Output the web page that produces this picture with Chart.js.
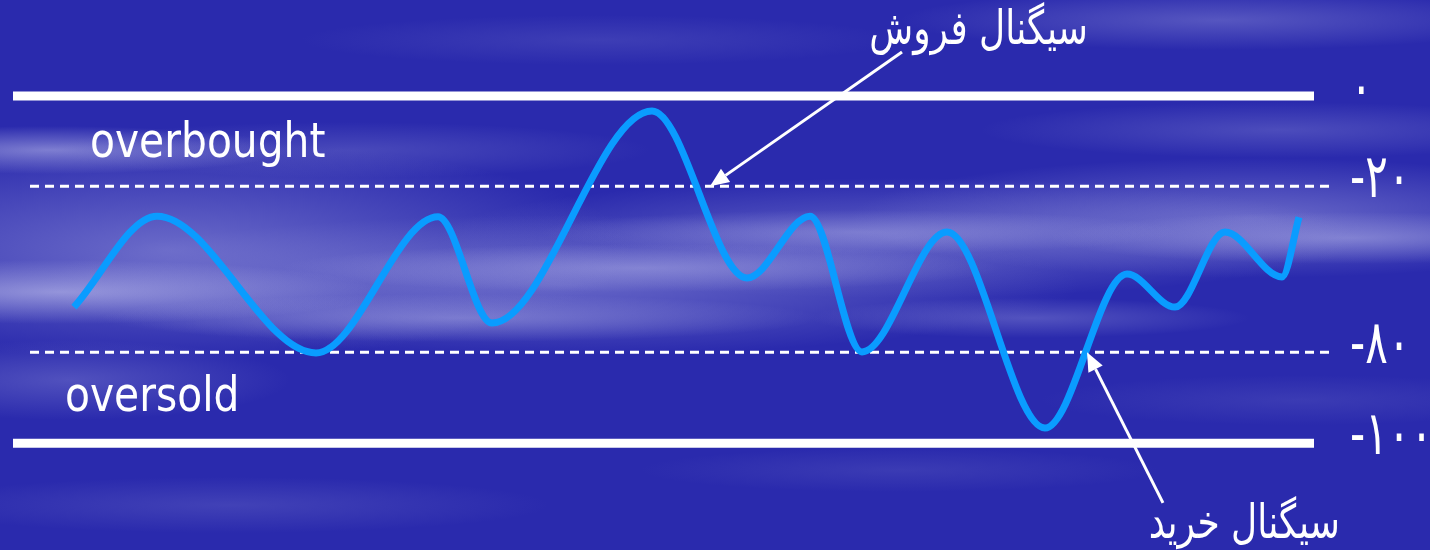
<!DOCTYPE html>
<html>
<head>
<meta charset="utf-8">
<script src="https://cdn.jsdelivr.net/npm/chart.js@4.4.1/dist/chart.umd.min.js"></script>
<style>
  html, body { margin: 0; padding: 0; }
  body {
    width: 1430px; height: 550px; overflow: hidden;
    background-color: #2a2aad;
    background-image:
      radial-gradient(ellipse 320px 32px at 60px 292px, rgba(195,195,238,0.6), rgba(195,195,238,0) 100%),
      radial-gradient(ellipse 240px 24px at 50px 150px, rgba(180,180,232,0.6), rgba(180,180,232,0) 100%),
      radial-gradient(ellipse 360px 24px at 460px 318px, rgba(180,180,232,0.45), rgba(180,180,232,0) 100%),
      radial-gradient(ellipse 360px 24px at 640px 268px, rgba(180,180,232,0.45), rgba(180,180,232,0) 100%),
      radial-gradient(ellipse 320px 22px at 860px 232px, rgba(175,175,230,0.4), rgba(175,175,230,0) 100%),
      radial-gradient(ellipse 300px 26px at 1350px 238px, rgba(180,180,232,0.5), rgba(180,180,232,0) 100%),
      radial-gradient(ellipse 220px 20px at 1030px 318px, rgba(160,160,225,0.35), rgba(160,160,225,0) 100%),
      radial-gradient(ellipse 460px 110px at 170px 250px, rgba(150,150,220,0.6), rgba(150,150,220,0) 100%),
      radial-gradient(ellipse 520px 70px at 560px 285px, rgba(150,150,220,0.55), rgba(150,150,220,0) 100%),
      radial-gradient(ellipse 460px 60px at 900px 238px, rgba(150,150,220,0.5), rgba(150,150,220,0) 100%),
      radial-gradient(ellipse 400px 60px at 1250px 218px, rgba(155,155,222,0.55), rgba(155,155,222,0) 100%),
      radial-gradient(ellipse 320px 30px at 1220px 20px, rgba(140,140,215,0.45), rgba(140,140,215,0) 100%),
      radial-gradient(ellipse 300px 28px at 1280px 130px, rgba(140,140,215,0.35), rgba(140,140,215,0) 100%),
      radial-gradient(ellipse 300px 25px at 600px 40px, rgba(120,120,205,0.25), rgba(120,120,205,0) 100%),
      radial-gradient(ellipse 300px 28px at 350px 150px, rgba(130,130,210,0.35), rgba(130,130,210,0) 100%),
      radial-gradient(ellipse 220px 40px at 70px 380px, rgba(140,140,215,0.4), rgba(140,140,215,0) 100%),
      radial-gradient(ellipse 320px 28px at 230px 505px, rgba(120,120,205,0.3), rgba(120,120,205,0) 100%),
      radial-gradient(ellipse 260px 22px at 900px 470px, rgba(110,110,200,0.25), rgba(110,110,200,0) 100%),
      radial-gradient(ellipse 260px 25px at 1300px 400px, rgba(110,110,200,0.25), rgba(110,110,200,0) 100%);
  }
  #wrap { position: absolute; left: 0; top: 0; width: 1430px; height: 550px; }
</style>
</head>
<body>
<div id="wrap"><canvas id="c" width="1430" height="550"></canvas></div>
<script>
// ---- data (time units along x, oscillator value along y) ----
const curveX = [7.4, 15.7, 31.6, 43.8, 49.2, 65.2, 74.7, 81.0, 86.2, 94.7, 104.5, 112.7, 117.5, 122.5, 128.2, 129.9];
const curveY = [-60.8, -34.6, -74.0, -34.8, -65.4, -4.3, -52.4, -34.6, -73.7, -39.2, -95.6, -51.3, -60.8, -39.2, -52.1, -34.9];

// horizontal reference levels as drawn in the picture
const boundLevels = [0, -100];          // solid bounds
const bandLevels = [-26, -73.8];        // dashed overbought / oversold lines
const boundRange = [1.3, 131.4];        // x extent of solid lines
const bandRange = [3.0, 133.0];         // x extent of dashed lines

// right-side tick labels
const tickValues = [0, -26, -73.8, -100];
const tickLabels = ['۰', '-۲۰', '-۸۰', '-۱۰۰'];

// annotations
const zoneLabels = ['overbought', 'oversold'];
const zoneX = [9.0, 6.5];
const zoneY = [-17.6, -90.7];

const signalLabels = ['سیگنال فروش', 'سیگنال خرید'];
const signalTextX = [108.8, 134.0];      // right edge of text
const signalTextY = [15.0, -127.3];      // baseline
const arrowFrom = [[90.2, 12.7], [116.3, -117.2]];
const arrowTo = [[71.0, -26.0], [108.7, -73.8]];

const yMax = 27.65, yMin = -130.76;

function hline(level, range) {
  return [{x: range[0], y: level}, {x: range[1], y: level}];
}

const datasets = [
  {
    data: curveX.map((x, i) => ({x, y: curveY[i]})),
    borderColor: '#0a9cff',
    borderWidth: 7,
    pointRadius: 0,
    fill: false,
    cubicInterpolationMode: 'monotone',
    borderCapStyle: 'butt'
  }
];
boundLevels.forEach(l => datasets.push({
  data: hline(l, boundRange), borderColor: '#ffffff', borderWidth: 9,
  pointRadius: 0, borderCapStyle: 'butt', tension: 0
}));
bandLevels.forEach(l => datasets.push({
  data: hline(l, bandRange), borderColor: '#ffffff', borderWidth: 3,
  borderDash: [9, 6], pointRadius: 0, borderCapStyle: 'butt', tension: 0
}));

const annot = {
  id: 'annot',
  afterDatasetsDraw(chart) {
    const ctx = chart.ctx;
    const xs = chart.scales.x, ys = chart.scales.y;
    ctx.save();
    ctx.fillStyle = '#ffffff';
    ctx.strokeStyle = '#ffffff';

    // zone labels
    ctx.font = '48px "DejaVu Sans"';
    ctx.textBaseline = 'alphabetic';
    ctx.textAlign = 'left';
    zoneLabels.forEach((t, i) => {
      const px = xs.getPixelForValue(zoneX[i]);
      const py = ys.getPixelForValue(zoneY[i]);
      ctx.save();
      ctx.translate(px, py);
      ctx.scale(0.85, 1);
      ctx.fillText(t, 0, 0);
      ctx.restore();
    });

    // tick labels
    ctx.font = '42px "DejaVu Sans"';
    ctx.textBaseline = 'middle';
    ctx.textAlign = 'left';
    ctx.direction = 'ltr';
    tickValues.forEach((v, i) => {
      ctx.save();
      ctx.translate(1350, ys.getPixelForValue(v) - 5);
      ctx.scale(1, 1.45);
      ctx.fillText(tickLabels[i], 0, 0);
      ctx.restore();
    });

    // signal labels
    ctx.font = '36px "DejaVu Sans"';
    ctx.textBaseline = 'alphabetic';
    ctx.textAlign = 'right';
    ctx.direction = 'rtl';
    signalLabels.forEach((t, i) => {
      ctx.save();
      ctx.translate(xs.getPixelForValue(signalTextX[i]), ys.getPixelForValue(signalTextY[i]));
      ctx.scale(1, 1.3);
      ctx.fillText(t, 0, 0);
      ctx.restore();
    });

    // arrows
    ctx.lineWidth = 3;
    arrowFrom.forEach((f, i) => {
      const x0 = xs.getPixelForValue(f[0]), y0 = ys.getPixelForValue(f[1]);
      const x1 = xs.getPixelForValue(arrowTo[i][0]), y1 = ys.getPixelForValue(arrowTo[i][1]);
      const ang = Math.atan2(y1 - y0, x1 - x0);
      const L = 19, W = 8;
      const bx = x1 - L * Math.cos(ang), by = y1 - L * Math.sin(ang);
      ctx.beginPath();
      ctx.moveTo(x0, y0);
      ctx.lineTo(bx, by);
      ctx.stroke();
      ctx.beginPath();
      ctx.moveTo(x1, y1);
      ctx.lineTo(bx + W * Math.sin(ang), by - W * Math.cos(ang));
      ctx.lineTo(bx - W * Math.sin(ang), by + W * Math.cos(ang));
      ctx.closePath();
      ctx.fill();
    });
    ctx.restore();
  }
};

new Chart(document.getElementById('c'), {
  type: 'line',
  data: { datasets },
  options: {
    responsive: false,
    animation: false,
    layout: { padding: 0 },
    plugins: { legend: { display: false }, tooltip: { enabled: false } },
    scales: {
      x: { type: 'linear', min: 0, max: 143, display: false },
      y: { type: 'linear', min: yMin, max: yMax, display: false }
    }
  },
  plugins: [annot]
});
</script>
</body>
</html>
